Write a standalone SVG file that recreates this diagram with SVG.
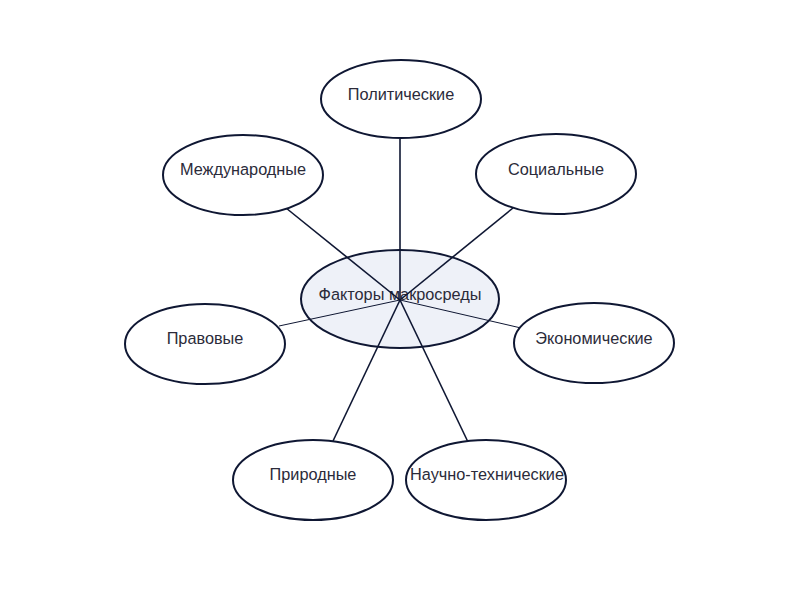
<svg xmlns="http://www.w3.org/2000/svg" width="800" height="600" viewBox="0 0 800 600">
<style>
.n ellipse{fill:#ffffff;stroke:#0f1733;stroke-width:2}
.c ellipse{fill:#eef1f8;stroke:#0f1733;stroke-width:2}
text{font-family:"Liberation Sans",Arial,sans-serif;font-size:16.3px;fill:#2b2b3a;text-anchor:middle}
.e line{stroke:#0f1733;stroke-width:1.6}
.e line.t{stroke-width:1}
</style>
<rect width="800" height="600" fill="#ffffff"/>
<g id="center" class="c">
<ellipse cx="400" cy="299" rx="99" ry="49"/>
<text x="400" y="300">Факторы макросреды</text>
</g>
<g id="connectors" class="e">
<line x1="400" y1="300" x2="400" y2="139"/>
<line x1="400" y1="300" x2="513" y2="208"/>
<line x1="400" y1="300" x2="286" y2="208"/>
<line class="t" x1="400" y1="300" x2="279" y2="326"/>
<line class="t" x1="400" y1="300" x2="521" y2="328"/>
<line x1="400" y1="300" x2="333" y2="441"/>
<line x1="400" y1="300" x2="468" y2="442"/>
</g>
<g id="political" class="n">
<ellipse cx="401" cy="99" rx="80" ry="39"/>
<text x="401" y="100">Политические</text>
</g>
<g id="social" class="n">
<ellipse cx="556" cy="174" rx="80" ry="40"/>
<text x="556" y="175">Социальные</text>
</g>
<g id="international" class="n">
<ellipse cx="243" cy="175" rx="80" ry="40"/>
<text x="243" y="175">Международные</text>
</g>
<g id="legal" class="n">
<ellipse cx="205" cy="344" rx="80" ry="40"/>
<text x="205" y="344">Правовые</text>
</g>
<g id="economic" class="n">
<ellipse cx="594" cy="343" rx="80" ry="40"/>
<text x="594" y="344">Экономические</text>
</g>
<g id="natural" class="n">
<ellipse cx="313" cy="480" rx="80" ry="40"/>
<text x="313" y="480">Природные</text>
</g>
<g id="scitech" class="n">
<ellipse cx="486" cy="480" rx="80" ry="40"/>
<text x="487" y="480">Научно-технические</text>
</g>
</svg>
